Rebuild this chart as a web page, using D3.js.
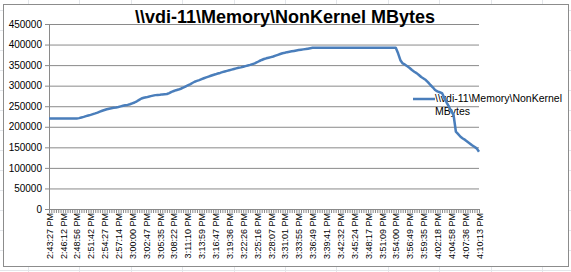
<!DOCTYPE html>
<html>
<head>
<meta charset="utf-8">
<script src="https://cdn.jsdelivr.net/npm/d3@7"></script>
<style>
  body { margin: 0; background: #fff; }
  svg { display: block; }
</style>
</head>
<body>
<div id="chart"></div>
<script>
var width = 571;
var height = 272;

// chart text
var title = "\\\\vdi-11\\Memory\\NonKernel MBytes";
var legendLines = ["\\\\vdi-11\\Memory\\NonKernel", "MBytes"];

// y ticks
var yTicks = [0, 50000, 100000, 150000, 200000, 250000, 300000, 350000, 400000, 450000];

// category labels, one for every 6th sample
var tickLabels = ["2:43:27 PM", "2:46:12 PM", "2:48:56 PM", "2:51:42 PM", "2:54:27 PM", "2:57:14 PM",
  "3:00:00 PM", "3:02:47 PM", "3:05:35 PM", "3:08:22 PM", "3:11:10 PM", "3:13:59 PM",
  "3:16:47 PM", "3:19:36 PM", "3:22:26 PM", "3:25:16 PM", "3:28:07 PM", "3:31:01 PM",
  "3:33:55 PM", "3:36:49 PM", "3:39:41 PM", "3:42:32 PM", "3:45:24 PM", "3:48:17 PM",
  "3:51:09 PM", "3:54:00 PM", "3:56:49 PM", "3:59:35 PM", "4:02:18 PM", "4:04:58 PM",
  "4:07:36 PM", "4:10:13 PM"];
var labelEvery = 6;

// NonKernel MBytes, one value per sample
var values = [
  220000, 220000, 220000, 220000, 220000, 220000, 220000, 220000, 220000, 220000,
  220000, 220000, 220000, 221000, 222500, 224000, 225800, 227500, 229000, 230800,
  232500, 234500, 236800, 238900, 240700, 242500, 244000, 245200, 246300, 247000,
  248200, 249600, 251000, 252500, 253200, 254800, 257000, 259000, 262000, 265500,
  268800, 270500, 271600, 273000, 274600, 275800, 277000, 277500, 278000, 278800,
  279200, 279700, 282000, 285000, 287000, 289000, 290500, 292500, 295000, 297800,
  300500, 303000, 306500, 309600, 311500, 313500, 315800, 318000, 320000, 322000,
  324000, 326000, 327600, 329500, 331000, 332800, 334500, 336000, 337600, 339000,
  340500, 342000, 343500, 344500, 346000, 347500, 349000, 350500, 352500, 354300,
  357000, 360000, 362500, 364800, 366500, 368000, 369500, 371000, 373000, 375000,
  377000, 378800, 380000, 381500, 382600, 383500, 384500, 385600, 386700, 387500,
  388300, 389000, 390000, 391000, 392000, 392000, 392000, 392000, 392000, 392000,
  392000, 392000, 392000, 392000, 392000, 392000, 392000, 392000, 392000, 392000,
  392000, 392000, 392000, 392000, 392000, 392000, 392000, 392000, 392000, 392000,
  392000, 392000, 392000, 392000, 392000, 392000, 392000, 392000, 392000, 392000,
  392000, 378600, 362000, 354000, 351000, 347000, 343000, 338000, 334000, 330500,
  326000, 321000, 317500, 313700, 308000, 301600, 296000, 289400, 286000, 284000,
  282000, 270000, 259000, 248800, 238000, 228600, 188000, 182000, 175800, 171500,
  168000, 163700, 159500, 155000, 151500, 147500, 139400
];

var plot = {left: 49, right: 479, top: 24, bottom: 209};

var svg = d3.select("#chart").append("svg")
  .attr("width", width)
  .attr("height", height);

// faint spreadsheet cells behind the chart
var bg = svg.append("g").attr("stroke", "#e3e6ea").attr("stroke-width", 1);
d3.range(28, width, 51.4).forEach(function(cx) {
  bg.append("line").attr("x1", Math.round(cx) + 0.5).attr("x2", Math.round(cx) + 0.5)
    .attr("y1", 0).attr("y2", height);
});
d3.range(10, height, 20).forEach(function(cy) {
  bg.append("line").attr("x1", 0).attr("x2", width)
    .attr("y1", cy + 0.5).attr("y2", cy + 0.5);
});

// chart area
svg.append("rect")
  .attr("x", 3.5).attr("y", 4.5)
  .attr("width", 565).attr("height", 262)
  .attr("fill", "#fff")
  .attr("stroke", "#8c8c8c");

var x = d3.scaleLinear().domain([0, values.length - 1]).range([plot.left, plot.right]);
var y = d3.scaleLinear().domain([0, 450000]).range([plot.bottom, plot.top]);

// gridlines
svg.append("g")
  .attr("transform", "translate(" + plot.left + ",0)")
  .call(d3.axisLeft(y).tickValues(yTicks.slice(1)).tickSize(-(plot.right - plot.left)).tickFormat(""))
  .call(function(g) {
    g.select(".domain").remove();
    g.selectAll("line").attr("stroke", "#8a8a8a");
  });

// y axis
svg.append("g")
  .attr("transform", "translate(" + plot.left + ",0)")
  .call(d3.axisLeft(y).tickValues(yTicks).tickSize(4).tickPadding(3).tickFormat(function(d) { return d; }))
  .call(function(g) {
    g.select(".domain").attr("stroke", "#8a8a8a");
    g.selectAll("line").attr("stroke", "#8a8a8a");
    g.selectAll("text")
      .attr("font-family", "'Liberation Sans', Arial, sans-serif")
      .attr("font-size", "10px")
      .attr("fill", "#000");
  });

// x axis: a mark for every sample
svg.append("g")
  .attr("transform", "translate(0," + plot.bottom + ")")
  .call(d3.axisBottom(x).tickValues(d3.range(values.length)).tickSize(4).tickFormat(""))
  .call(function(g) {
    g.select(".domain").attr("stroke", "#8a8a8a");
    g.selectAll("line").attr("stroke", "#8a8a8a");
  });

// x labels
var labelIdx = tickLabels.map(function(d, i) { return i * labelEvery; });
svg.append("g")
  .attr("transform", "translate(0," + plot.bottom + ")")
  .call(d3.axisBottom(x).tickValues(labelIdx).tickSize(0)
    .tickFormat(function(d) { return tickLabels[d / labelEvery]; }))
  .call(function(g) {
    g.select(".domain").remove();
    g.selectAll("text")
      .attr("font-family", "'Liberation Sans', Arial, sans-serif")
      .attr("font-size", "9px")
      .attr("fill", "#000")
      .attr("text-anchor", "end")
      .attr("transform", "rotate(-90)")
      .attr("x", -4)
      .attr("y", 0)
      .attr("dy", "0.35em");
  });

// title
svg.append("text")
  .attr("x", 285).attr("y", 23)
  .attr("text-anchor", "middle")
  .attr("font-family", "'Liberation Sans', Arial, sans-serif")
  .attr("font-weight", "bold")
  .attr("font-size", "18px")
  .attr("fill", "#000")
  .text(title);

// legend
var leg = svg.append("g");
leg.append("line")
  .attr("x1", 413).attr("x2", 435)
  .attr("y1", 99).attr("y2", 99)
  .attr("stroke", "#4a7ebb").attr("stroke-width", 2.5);
leg.selectAll("text").data(legendLines).enter().append("text")
  .attr("x", 435)
  .attr("y", function(d, i) { return 102 + i * 13; })
  .attr("font-family", "'Liberation Sans', Arial, sans-serif")
  .attr("font-size", "10.5px")
  .attr("fill", "#000")
  .text(function(d) { return d; });

// series line
var line = d3.line()
  .x(function(d, i) { return x(i); })
  .y(function(d) { return y(d); });

svg.append("path")
  .datum(values)
  .attr("d", line)
  .attr("fill", "none")
  .attr("stroke", "#4a7ebb")
  .attr("stroke-width", 2.5)
  .attr("stroke-linejoin", "round");
</script>
</body>
</html>
